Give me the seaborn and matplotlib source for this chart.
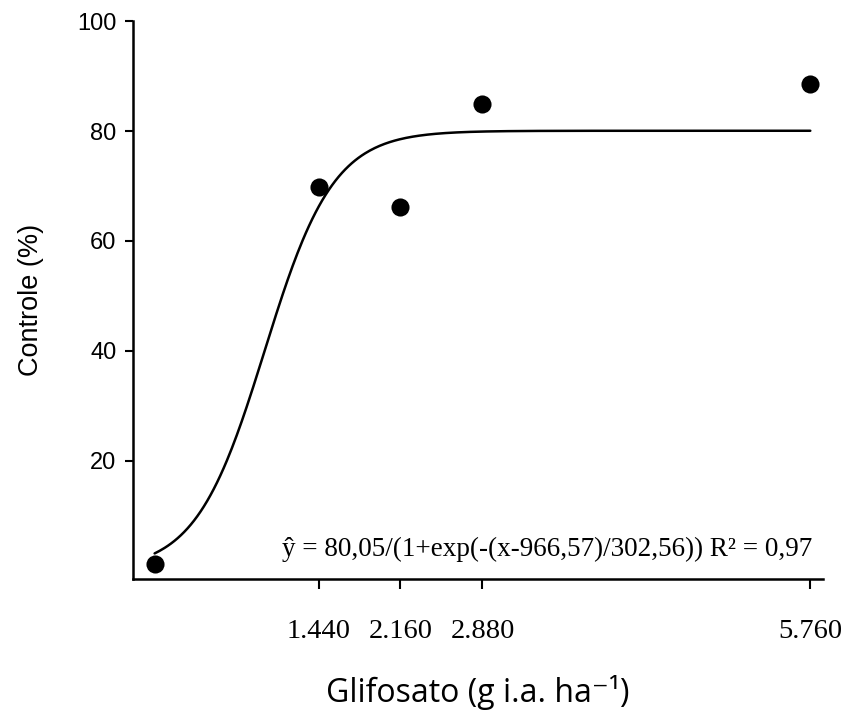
import numpy as np
import pandas as pd
import seaborn as sns
import matplotlib
matplotlib.use("Agg")
import matplotlib.pyplot as plt

# Glyphosate dose (g a.i. ha-1) and observed control (%)
doses = [0, 1440, 2160, 2880, 5760]
control = [1.3, 69.8, 66.1, 84.9, 88.5]
tick_labels = ["1.440", "2.160", "2.880", "5.760"]

# Fitted logistic model parameters
a, x0, b = 80.05, 966.57, 302.56
r2_text = "0,97"

sns.set_theme(style="ticks")
plt.rcParams["font.family"] = ["Liberation Sans", "DejaVu Sans"]
plt.rcParams["text.color"] = "black"
plt.rcParams["axes.labelcolor"] = "black"
plt.rcParams["xtick.color"] = "black"
plt.rcParams["ytick.color"] = "black"
plt.rcParams["axes.edgecolor"] = "black"

fig = plt.figure(figsize=(8.58, 7.18), dpi=100)
ax = fig.add_axes([0.155, 0.1936, 0.804, 0.777])

df = pd.DataFrame({"dose": doses, "control": control})
xs = np.linspace(doses[0], doses[-1], 400)
fit = pd.DataFrame({"dose": xs, "control": a / (1 + np.exp(-(xs - x0) / b))})

sns.lineplot(data=fit, x="dose", y="control", color="black", linewidth=1.8, ax=ax)
sns.scatterplot(data=df, x="dose", y="control", color="black", s=170,
                edgecolor="black", linewidth=0, ax=ax, zorder=3)

ax.set_xlim(-190, 5870)
ax.set_ylim(-1.5, 100)
ax.set_xticks(doses[1:])
ax.set_xticklabels(tick_labels, family=["Liberation Serif", "DejaVu Serif"], fontsize=20.5)
ax.set_yticks([20, 40, 60, 80, 100])
ax.tick_params(axis="y", labelsize=17, length=6, width=1.5, pad=6)
ax.tick_params(axis="x", length=7, width=1.5, pad=22)

for side in ("top", "right"):
    ax.spines[side].set_visible(False)
for side in ("left", "bottom"):
    ax.spines[side].set_linewidth(1.8)

ax.set_ylabel("Controle (%)", fontsize=19.5, labelpad=24)
ax.set_xlabel("Glifosato (g i.a. ha⁻¹)", fontsize=23, labelpad=22,
              family=["Open Sans", "DejaVu Sans"])

ax.text(0.985, 0.03,
        "ŷ = 80,05/(1+exp(-(x-966,57)/302,56)) R² = " + r2_text,
        transform=ax.transAxes, ha="right", va="bottom", fontsize=19.5,
        family=["Liberation Serif", "DejaVu Serif"])

fig.savefig("out.png", dpi=100)
